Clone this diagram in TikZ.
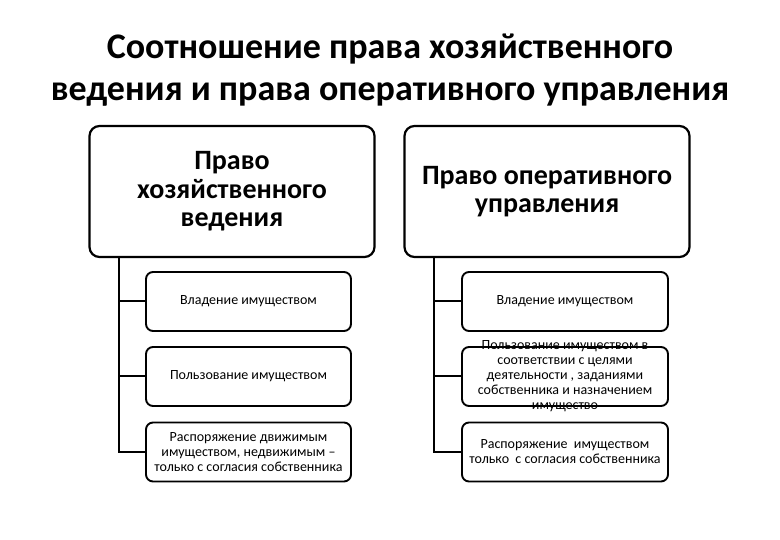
\documentclass[tikz,border=0pt]{standalone}
\usepackage{fontspec}
\setmainfont{Carlito}
\usetikzlibrary{positioning}
\tikzset{
  headbox/.style={draw,line width=2.2pt,rounded corners=10pt,minimum width=285pt,
    minimum height=131pt,inner sep=0pt,align=center,font=\bfseries\fontsize{28}{28.5}\selectfont},
  itembox/.style={draw,line width=1.9pt,rounded corners=7pt,minimum width=205pt,
    minimum height=59pt,inner sep=0pt},
  itemtext/.style={align=center,font=\fontsize{14}{15}\selectfont},
  branch/.style={line width=2pt},
}
\begin{document}
\begin{tikzpicture}[x=1pt,y=-1pt]
  \useasboundingbox (0,0) rectangle (780,540);
  \node[align=center,font=\bfseries\fontsize{36}{42}\selectfont] (title) at (390,70)
    {Соотношение права хозяйственного\\ведения и права оперативного управления};
  % верхние блоки
  \node[headbox] (hozL) at (232,191.5) {Право\\хозяйственного\\ведения};
  \node[headbox] (operR) at (547,191.5) {Право оперативного\\управления};
  % левая колонка
  \node[itembox] (l1) at (248.5,301.5) {};
  \node[itembox] (l2) at (248.5,376.5) {};
  \node[itembox] (l3) at (248.5,452) {};
  \node[itemtext] at (l1) {Владение имуществом};
  \node[itemtext] at (l2) {Пользование имуществом};
  \node[itemtext] at (l3) {Распоряжение движимым\\имуществом, недвижимым --\\только с согласия собственника};
  % правая колонка
  \node[itembox,minimum width=206pt] (r1) at (565,301.5) {};
  \node[itembox,minimum width=206pt] (r2) at (565,376.5) {};
  \node[itembox,minimum width=206pt] (r3) at (565,452) {};
  \node[itemtext] at (r1) {Владение имуществом};
  \node[itemtext] at (r2) {Пользование имуществом в\\соответствии с целями\\деятельности , заданиями\\собственника и назначением\\имущество};
  \node[itemtext] at (r3) {Распоряжение\ \ имуществом\\только\ \ с согласия собственника};
  % стволы и ответвления
  \coordinate (lx) at (119,0);
  \coordinate (rx) at (434,0);
  \draw[branch] (hozL.south -| lx) -- (l3.west -| lx) -- (l3.west);
  \draw[branch] (operR.south -| rx) -- (r3.west -| rx) -- (r3.west);
  \foreach \b in {1,2}{
    \draw[branch] (l\b.west -| lx) -- (l\b.west);
    \draw[branch] (r\b.west -| rx) -- (r\b.west);
  }
\end{tikzpicture}
\end{document}
